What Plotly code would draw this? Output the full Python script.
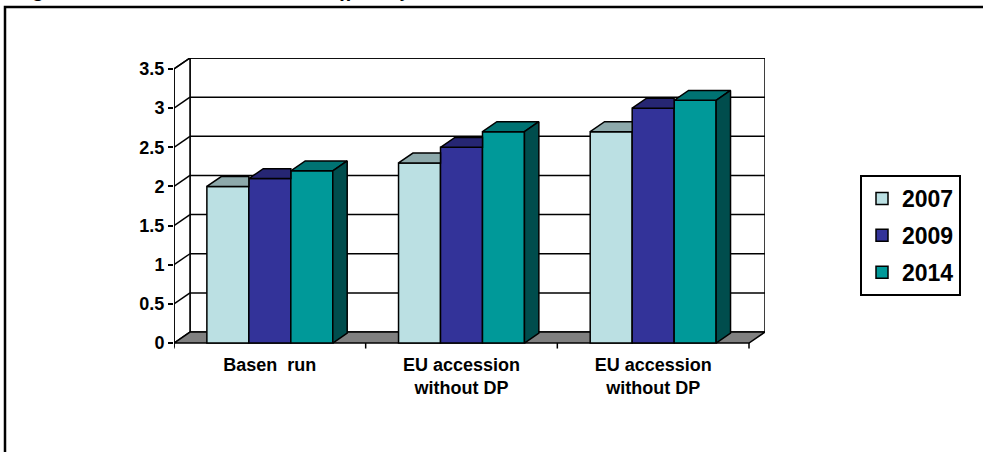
import plotly.graph_objects as go

# ---- data ----
categories = ["Basen  run", "EU accession<br>without DP", "EU accession<br>without DP"]
years = ["2007", "2009", "2014"]
v2007 = [2.0, 2.3, 2.7]
v2009 = [2.1, 2.5, 3.0]
v2014 = [2.2, 2.7, 3.1]
y_ticks = [0, 0.5, 1, 1.5, 2, 2.5, 3, 3.5]
y_ticktext = ["0", "0.5", "1", "1.5", "2", "2.5", "3", "3.5"]

# ---- styling / geometry ----
front_colors = ["#BBE0E3", "#333399", "#009999"]
top_colors = ["#8DA9AB", "#262673", "#007373"]
side_colors = ["#7A9C9F", "#1F1F5C", "#004D4D"]
FONT = "Liberation Sans"

W = 0.219            # bar width (category units)
DX, DY = 0.0835, 0.1405   # depth of the box: x-units, y-units
BDX, BDY = DX * 0.9, DY * 0.9  # depth of each bar
offsets = [-1.5 * W, -0.5 * W, 0.5 * W]
YMAX = y_ticks[-1] + DY
PLOT_H = 294
YMIN = YMAX - PLOT_H / 78.3
XMIN, XMAX = -0.5, len(categories) - 0.5 + DX

series = [v2007, v2009, v2014]
xs = list(range(len(categories)))

fig = go.Figure()

# front faces of the bars
for k, vals in enumerate(series):
    fig.add_bar(
        x=xs, y=vals, width=W, offset=offsets[k], name=years[k],
        legendgroup=years[k],
        marker=dict(color=front_colors[k], line=dict(color="black", width=1.5)),
        hoverinfo="x+y",
    )

# top and side faces
for k, vals in enumerate(series):
    tx, ty, sx, sy = [], [], [], []
    for i, h in enumerate(vals):
        x0 = i + offsets[k]
        x1 = x0 + W
        nxt = series[k + 1][i] if k + 1 < len(series) else None
        if nxt is not None and nxt >= h:
            # right part of the top is hidden behind the next (taller) bar
            tx += [x0, x0 + BDX, x1, x1, x0, None]
            ty += [h, h + BDY, h + BDY, h, h, None]
        else:
            tx += [x0, x0 + BDX, x1 + BDX, x1, x0, None]
            ty += [h, h + BDY, h + BDY, h, h, None]
            sx += [x1, x1 + BDX, x1 + BDX, x1, x1, None]
            sy += [0, BDY, h + BDY, h, 0, None]
    fig.add_scatter(x=tx, y=ty, mode="lines", fill="toself",
                    fillcolor=top_colors[k], line=dict(color="black", width=1.5),
                    showlegend=False, hoverinfo="skip")
    if sx:
        fig.add_scatter(x=sx, y=sy, mode="lines", fill="toself",
                        fillcolor=side_colors[k], line=dict(color="black", width=1.5),
                        showlegend=False, hoverinfo="skip")

# walls, floor and gridlines
shapes = []
L = XMIN
R = len(categories) - 0.5
top = y_ticks[-1]
line = dict(color="black", width=1.5)
# back wall
shapes.append(dict(type="rect", xref="x", yref="y", x0=L + DX, x1=R + DX, y0=DY, y1=top + DY,
                   fillcolor="white", line=line, layer="below"))
# side wall
shapes.append(dict(type="path", xref="x", yref="y", layer="below", fillcolor="white", line=line,
                   path=f"M {L},0 L {L+DX},{DY} L {L+DX},{top+DY} L {L},{top} Z"))
# gridlines
for v in y_ticks[1:]:
    shapes.append(dict(type="line", xref="x", yref="y", x0=L, y0=v, x1=L + DX, y1=v + DY,
                       line=line, layer="below"))
    shapes.append(dict(type="line", xref="x", yref="y", x0=L + DX, y0=v + DY, x1=R + DX, y1=v + DY,
                       line=line, layer="below"))
# floor
shapes.append(dict(type="path", xref="x", yref="y", layer="below", fillcolor="#808080", line=line,
                   path=f"M {L},0 L {R},0 L {R+DX},{DY} L {L+DX},{DY} Z"))
# front value axis
shapes.append(dict(type="line", xref="x", yref="y", x0=L, y0=-0.05, x1=L, y1=top,
                   line=line, layer="above"))
# category tick marks
for b in [i - 0.5 for i in range(len(categories) + 1)]:
    shapes.append(dict(type="line", xref="x", yref="y", x0=b, y0=0, x1=b, y1=-0.07,
                       line=line, layer="above"))

# outer frame of the figure
px_x = lambda p: (p - 174) / 591
px_y = lambda p: (352 - p) / PLOT_H
shapes.append(dict(type="rect", xref="paper", yref="paper",
                   x0=px_x(5), x1=px_x(1200), y0=px_y(700), y1=px_y(7),
                   line=dict(color="black", width=2.5), fillcolor="rgba(0,0,0,0)", layer="above"))

fig.update_layout(
    width=983, height=452, autosize=False,
    margin=dict(l=174, r=218, t=58, b=100, pad=0),
    paper_bgcolor="white", plot_bgcolor="white",
    barmode="overlay",
    shapes=shapes,
    showlegend=True,
    legend=dict(
        x=px_x(860), y=px_y(175), xanchor="left", yanchor="top",
        bordercolor="black", borderwidth=2, bgcolor="white",
        font=dict(family=FONT, size=23, color="black", weight="bold"),
        tracegroupgap=4, traceorder="grouped",
    ),
    xaxis=dict(range=[XMIN, XMAX], showgrid=False, zeroline=False, showline=False,
               tickvals=xs, ticktext=categories, ticks="",
               tickfont=dict(family=FONT, size=18, color="black", weight="bold")),
    yaxis=dict(range=[YMIN, YMAX], showgrid=False, zeroline=False, showline=False,
               tickvals=y_ticks, ticktext=y_ticktext, ticks="outside", ticklen=5,
               tickwidth=1.5, tickcolor="black",
               tickfont=dict(family=FONT, size=18, color="black", weight="bold")),
    annotations=[dict(
        xref="paper", yref="paper", x=px_x(12), y=px_y(3), xanchor="left", yanchor="bottom",
        text="Figure 3: Sectoral Macro-economic effects by CGE simulations, 2007-2014",
        showarrow=False,
        font=dict(family="Liberation Serif", size=21, color="black", weight="bold", style="italic"),
    )],
)

fig.write_html("out.html")
